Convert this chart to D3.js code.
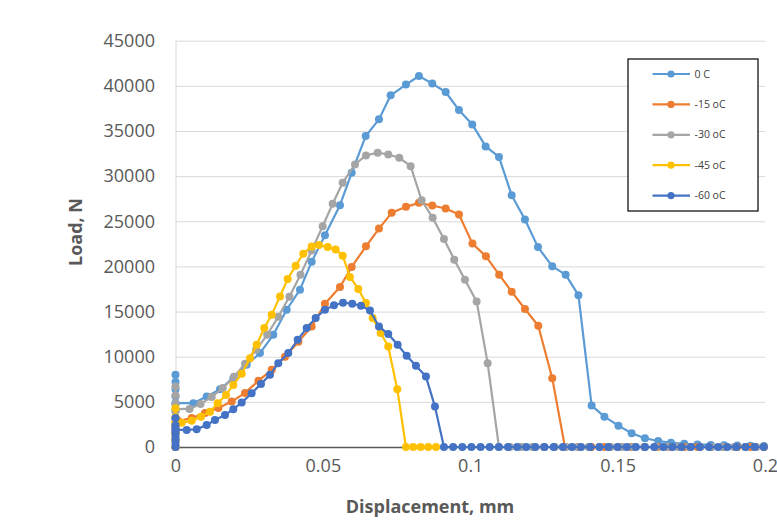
<!DOCTYPE html>
<html>
<head>
<meta charset="utf-8">
<script src="https://cdn.jsdelivr.net/npm/d3@7"></script>
<style>
  html, body { margin: 0; padding: 0; background: #fff; }
  svg { display: block; }
  text { font-family: "Open Sans", "Liberation Sans", sans-serif; }
</style>
</head>
<body>
<svg id="chart" width="777" height="527"></svg>
<script>
// ---------------- DATA ----------------
const seriesNames = ["0 C", "-15 oC", "-30 oC", "-45 oC", "-60 oC"];
const seriesColors = ["#5B9BD5", "#ED7D31", "#A5A5A5", "#FFC000", "#4472C4"];

const xTicks = [0, 0.05, 0.1, 0.15, 0.2];
const xTickLabels = ["0", "0.05", "0.1", "0.15", "0.2"];
const yTicks = [0, 5000, 10000, 15000, 20000, 25000, 30000, 35000, 40000, 45000];
const yTickLabels = ["0", "5000", "10000", "15000", "20000", "25000", "30000", "35000", "40000", "45000"];

// 0 C
const disp0 = [0, 0, 0, 0, 0, 0, 0, 0, 0, 0, 0, 0,
  0.00604, 0.01058, 0.01510, 0.01961, 0.02415, 0.02866, 0.03318, 0.03772, 0.04223, 0.04620,
  0.05071, 0.05580, 0.05977, 0.06452, 0.06903, 0.07300, 0.07819, 0.08260, 0.08711, 0.09166,
  0.09617, 0.10068, 0.10522, 0.10974, 0.11405, 0.11856, 0.12297, 0.12782, 0.13236, 0.13670,
  0.14118, 0.14552, 0.15027, 0.15475, 0.15926, 0.16377, 0.16808, 0.1726, 0.1771, 0.1816,
  0.1861, 0.1906, 0.1951, 0.1996];
const load0 = [0, 800, 1600, 2400, 3200, 4000, 4800, 5600, 6400, 7200, 8000, 4850,
  4849, 5582, 6403, 7624, 9100, 10398, 12429, 15203, 17422, 20529,
  23448, 26777, 30373, 34434, 36287, 38950, 40138, 41092, 40249, 39317,
  37319, 35732, 33291, 32126, 27887, 25190, 22139, 20008, 19087, 16812,
  4583, 3362, 2364, 1520, 965, 666, 477, 350, 280, 230,
  190, 160, 130, 110];

// -15 oC
const disp15 = [0, 0, 0, 0, 0,
  0.00098, 0.00550, 0.01001, 0.01455, 0.01906, 0.02358, 0.02812, 0.03263, 0.03714, 0.04169,
  0.04620, 0.05071, 0.05580, 0.05977, 0.06462, 0.06903, 0.07334, 0.07819, 0.08260, 0.08711,
  0.09166, 0.09617, 0.10075, 0.10533, 0.10980, 0.11405, 0.11856, 0.12307, 0.12782, 0.13212,
  0.1366, 0.1411, 0.1456, 0.1501, 0.1546, 0.1591, 0.1636, 0.1681, 0.1726, 0.1771,
  0.1816, 0.1861, 0.1906, 0.1951, 0.1996];
const load15 = [0, 700, 1400, 2100, 2800,
  2885, 3218, 3773, 4328, 5027, 5992, 7324, 8545, 9987, 11652,
  13350, 15869, 17722, 19941, 22227, 24191, 25934, 26600, 27043, 26744,
  26411, 25745, 22527, 21118, 19087, 17200, 15281, 13427, 7624, 0,
  0, 0, 0, 0, 0, 0, 0, 0, 0, 0,
  0, 0, 0, 0, 0];

// -30 oC
const disp30 = [0, 0, 0, 0, 0, 0, 0, 0, 0, 0,
  0.00475, 0.00851, 0.01228, 0.01604, 0.01981, 0.02358, 0.02734, 0.03111, 0.03487, 0.03864,
  0.04240, 0.04617, 0.04993, 0.05332, 0.05672, 0.06089, 0.06462, 0.06859, 0.07218, 0.07592,
  0.07978, 0.08351, 0.08725, 0.09108, 0.09457, 0.09820, 0.10217, 0.10590, 0.10974,
  0.1135, 0.1173, 0.1211, 0.1249, 0.1287, 0.1325, 0.1363, 0.1401, 0.1439, 0.1477,
  0.1515, 0.1553, 0.1591, 0.1629, 0.1667, 0.1705, 0.1743, 0.1781, 0.1819, 0.1857,
  0.1895, 0.1933, 0.1971];
const load30 = [0, 800, 1600, 2400, 3200, 4000, 4800, 5700, 6700, 4200,
  4217, 4772, 5549, 6547, 7768, 9211, 10764, 12429, 14426, 16646,
  19087, 21750, 24447, 26932, 29263, 31294, 32293, 32592, 32403, 32037,
  31105, 27332, 25379, 23048, 20751, 18532, 16124, 9288, 0,
  0, 0, 0, 0, 0, 0, 0, 0, 0, 0,
  0, 0, 0, 0, 0, 0, 0, 0, 0, 0,
  0, 0, 0];

// -45 oC
const disp45 = [0, 0, 0, 0, 0, 0, 0,
  0.00210, 0.00550, 0.00865, 0.01170, 0.01431, 0.01713, 0.01961, 0.02246, 0.02527, 0.02754,
  0.03012, 0.03263, 0.03545, 0.03806, 0.04077, 0.04335, 0.04620, 0.04868, 0.05163, 0.05434,
  0.05672, 0.05919, 0.06201, 0.06462, 0.06689, 0.06961, 0.07218, 0.07524, 0.07819, 0.08067,
  0.08318, 0.08575, 0.08837];
const load45 = [0, 800, 1600, 2400, 3300, 4300, 2700,
  2697, 2918, 3362, 3917, 4849, 5770, 6880, 8101, 9843, 11319,
  13172, 14648, 16679, 18610, 20086, 21417, 22194, 22360, 22161, 21861,
  21195, 18832, 17500, 15946, 14282, 12617, 11130, 6403, 0, 0,
  0, 0, 0];

// -60 oC
const disp60 = [0, 0, 0, 0, 0, 0, 0, 0, 0,
  0.00380, 0.00719, 0.01058, 0.01340, 0.01679, 0.01961, 0.02246, 0.02585, 0.02900, 0.03206,
  0.03487, 0.03826, 0.04145, 0.04451, 0.04756, 0.05071, 0.05377, 0.05682, 0.05997, 0.06292,
  0.06598, 0.06903, 0.07218, 0.07537, 0.07843, 0.08158, 0.08497, 0.08803, 0.09108,
  0.0942, 0.0973, 0.1004, 0.1035, 0.1066, 0.1097, 0.1128, 0.1159, 0.1190, 0.1221,
  0.1252, 0.1283, 0.1314, 0.1345, 0.1376, 0.1407, 0.1438, 0.1469, 0.1500, 0.1531,
  0.1562, 0.1593, 0.1624, 0.1655, 0.1686, 0.1717, 0.1748, 0.1779, 0.1810, 0.1841,
  0.1872, 0.1903, 0.1934, 0.1965, 0.1996];
const load60 = [0, 400, 800, 1200, 1600, 2000, 2400, 3200, 1900,
  1886, 1964, 2441, 2996, 3551, 4183, 4916, 5959, 6991, 7990,
  9288, 10398, 11874, 13172, 14282, 15203, 15702, 15980, 15869, 15647,
  15125, 13350, 12506, 11319, 10098, 8989, 7801, 4472, 0,
  0, 0, 0, 0, 0, 0, 0, 0, 0, 0,
  0, 0, 0, 0, 0, 0, 0, 0, 0, 0,
  0, 0, 0, 0, 0, 0, 0, 0, 0, 0,
  0, 0, 0, 0, 0];

const xTitle = "Displacement, mm";
const yTitle = "Load, N";

// ---------------- CHART ----------------
const dispArrays = [disp0, disp15, disp30, disp45, disp60];
const loadArrays = [load0, load15, load30, load45, load60];
const series = seriesNames.map((name, i) => ({
  name, color: seriesColors[i],
  points: dispArrays[i].map((d, j) => [d, loadArrays[i][j]])
}));

const svg = d3.select("#chart");
svg.append("rect").attr("width", 777).attr("height", 527).attr("fill", "#fff");

const x = d3.scaleLinear().domain([0, 0.2]).range([175.5, 765]);
const y = d3.scaleLinear().domain([0, 45000]).range([447, 40.7]);

// Y axis with gridlines
const yAxis = svg.append("g")
  .attr("transform", `translate(${x(0)},0)`)
  .call(d3.axisLeft(y).tickValues(yTicks)
    .tickFormat((d, i) => yTickLabels[i])
    .tickSizeInner(-(x(0.2) - x(0))).tickSizeOuter(0).tickPadding(20.5));
yAxis.select(".domain").attr("stroke", "#d9d9d9").attr("stroke-width", 1);
yAxis.selectAll(".tick line").attr("stroke", "#d9d9d9").attr("stroke-width", 1);
yAxis.selectAll(".tick text").attr("fill", "#595959").style("font-size", "18px");

// X axis
const xAxis = svg.append("g")
  .attr("transform", `translate(0,${y(0)})`)
  .call(d3.axisBottom(x).tickValues(xTicks)
    .tickFormat((d, i) => xTickLabels[i])
    .tickSize(0).tickPadding(12.5));
xAxis.select(".domain").attr("stroke", "#595959").attr("stroke-width", 1.5);
xAxis.selectAll(".tick text").attr("fill", "#595959").style("font-size", "18px");

// Axis titles
svg.append("text")
  .attr("x", 430).attr("y", 513)
  .attr("text-anchor", "middle")
  .attr("fill", "#595959")
  .style("font-size", "18px").style("font-weight", "bold")
  .text(xTitle);
svg.append("text")
  .attr("transform", "translate(82,232) rotate(-90)")
  .attr("text-anchor", "middle")
  .attr("fill", "#595959")
  .style("font-size", "18px").style("font-weight", "bold")
  .text(yTitle);

// Series
const line = d3.line().x(d => x(d[0])).y(d => y(d[1]));
series.forEach(s => {
  const g = svg.append("g");
  g.append("path").datum(s.points)
    .attr("fill", "none").attr("stroke", s.color)
    .attr("stroke-width", 2.2).attr("stroke-linejoin", "round")
    .attr("d", line);
  g.selectAll("circle").data(s.points).join("circle")
    .attr("cx", d => x(d[0])).attr("cy", d => y(d[1]))
    .attr("r", 4).attr("fill", s.color);
});

// Legend
const lg = svg.append("g");
lg.append("rect")
  .attr("x", 628).attr("y", 59).attr("width", 130).attr("height", 152)
  .attr("fill", "#fff").attr("stroke", "#000").attr("stroke-width", 1.2);
const legendRow = d3.scalePoint().domain(seriesNames).range([74, 195.6]);
seriesNames.forEach((name, i) => {
  const yy = legendRow(name);
  lg.append("line").attr("x1", 652.5).attr("x2", 690).attr("y1", yy).attr("y2", yy)
    .attr("stroke", seriesColors[i]).attr("stroke-width", 2.2);
  lg.append("circle").attr("cx", 671).attr("cy", yy).attr("r", 3.6).attr("fill", seriesColors[i]);
  lg.append("text").attr("x", 694.5).attr("y", yy).attr("dy", "0.35em")
    .attr("fill", "#404040").style("font-size", "10.5px")
    .text(name);
});
</script>
</body>
</html>
